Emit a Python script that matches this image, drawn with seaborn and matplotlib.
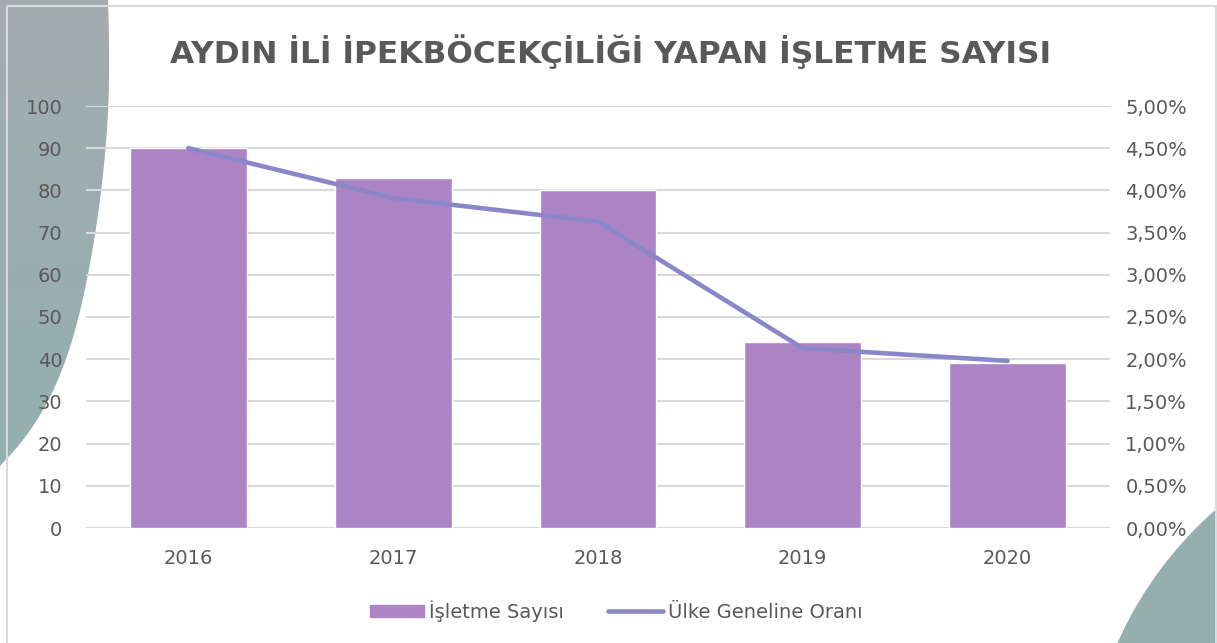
import matplotlib
matplotlib.use("Agg")
import matplotlib.pyplot as plt
import seaborn as sns
import pandas as pd
import numpy as np
from matplotlib.patches import Polygon, Circle, Rectangle
from matplotlib.lines import Line2D
from matplotlib.patches import Patch
from matplotlib.ticker import FuncFormatter
from matplotlib.colors import LinearSegmentedColormap

years = ["2016", "2017", "2018", "2019", "2020"]
isletme_sayisi = [90, 83, 80, 44, 39]
ulke_orani = [4.50, 3.91, 3.63, 2.13, 1.98]  # percent

title = "AYDIN İLİ İPEKBÖCEKÇİLİĞİ YAPAN İŞLETME SAYISI"
bar_label = "İşletme Sayısı"
line_label = "Ülke Geneline Oranı"

bar_color = "#ac84c5"
line_color = "#8a87c8"
text_color = "#595959"
grid_color = "#d9d9d9"

sns.set_theme(style="white")
plt.rcParams["font.family"] = ["DejaVu Sans"]

W, H = 1217, 643
fig = plt.figure(figsize=(W / 100, H / 100), dpi=100)

# decorative background shapes (pixel coordinates)
bg = fig.add_axes([0, 0, 1, 1], zorder=0)
bg.set_xlim(0, W)
bg.set_ylim(H, 0)
bg.axis("off")
edge_y = np.array([-80, -40, 0, 45, 90, 148, 190, 232, 275, 317, 359, 401, 443, 463])
edge_x = np.array([109, 109, 108.5, 108, 107.5, 106, 102, 97, 87, 78, 65, 47, 25, 0])
coef = np.polyfit(edge_y, edge_x, 5)
yy = np.linspace(0, 475, 150)
xx = np.clip(np.polyval(coef, yy), 0, None)
left_shape = [(0, 0)] + list(zip(xx, yy)) + [(0, 475)]
poly = Polygon(left_shape, closed=True, facecolor="none", lw=0)
bg.add_patch(poly)
cmap = LinearSegmentedColormap.from_list("deco", ["#a3abb1", "#93b0ae"])
grad = np.linspace(0, 1, 256).reshape(-1, 1)
im = bg.imshow(grad, cmap=cmap, extent=(0, 120, 480, 0), aspect="auto", zorder=0)
im.set_clip_path(poly)
bg.set_xlim(0, W)
bg.set_ylim(H, 0)
bg.add_patch(Circle((1470, 800), 386, color="#95afae", lw=0))
bg.add_patch(Rectangle((7, 6), W - 8, H, fill=False, ec="#d9d9d9", lw=1.5))

df = pd.DataFrame({"year": years, "count": isletme_sayisi,
                   "pos": np.arange(len(years)), "rate": ulke_orani})

ax = fig.add_axes([86 / W, 1 - 528 / H, (1110 - 86) / W, (528 - 106) / H], zorder=1)
ax.patch.set_alpha(0)
sns.barplot(data=df, x="year", y="count", color=bar_color, saturation=1,
            width=0.57, ax=ax, zorder=2)
ax.set_ylim(0, 100)
ax.set_xlim(-0.5, 4.5)
ax.set_yticks(np.arange(0, 101, 10))
ax.yaxis.grid(True, color=grid_color, lw=1.5, zorder=0)
ax.set_axisbelow(True)
for s in ax.spines.values():
    s.set_visible(False)
ax.set_xlabel("")
ax.set_ylabel("")
ax.tick_params(axis="both", length=0, labelsize=14, labelcolor=text_color)
ax.tick_params(axis="y", pad=17)
ax.tick_params(axis="x", pad=15)

ax2 = ax.twinx()
sns.lineplot(data=df, x="pos", y="rate", color=line_color, lw=3.3,
             solid_capstyle="round", ax=ax2, zorder=3)
ax2.set_ylim(0, 5)
ax2.set_yticks(np.arange(0, 5.01, 0.5))
ax2.yaxis.set_major_formatter(FuncFormatter(lambda v, p: f"{v:.2f}%".replace(".", ",")))
for s in ax2.spines.values():
    s.set_visible(False)
ax2.set_ylabel("")
ax2.set_xlabel("")
ax2.tick_params(axis="y", length=0, labelsize=14, labelcolor=text_color, pad=11)
ax2.grid(False)

fig.text(611 / W, 1 - 52 / H, title, ha="center", va="center", fontsize=22.5,
         fontweight="bold", color=text_color)

handles = [Patch(color=bar_color, label=bar_label),
           Line2D([0], [0], color=line_color, lw=3.3, solid_capstyle="round", label=line_label)]
fig.legend(handles=handles, loc="center", bbox_to_anchor=(616 / W, 1 - 611 / H),
           ncol=2, frameon=False, fontsize=14, labelcolor=text_color,
           handlelength=2.8, handleheight=0.55, handletextpad=0.25, columnspacing=2.3)

fig.savefig("out.png", dpi=100)
